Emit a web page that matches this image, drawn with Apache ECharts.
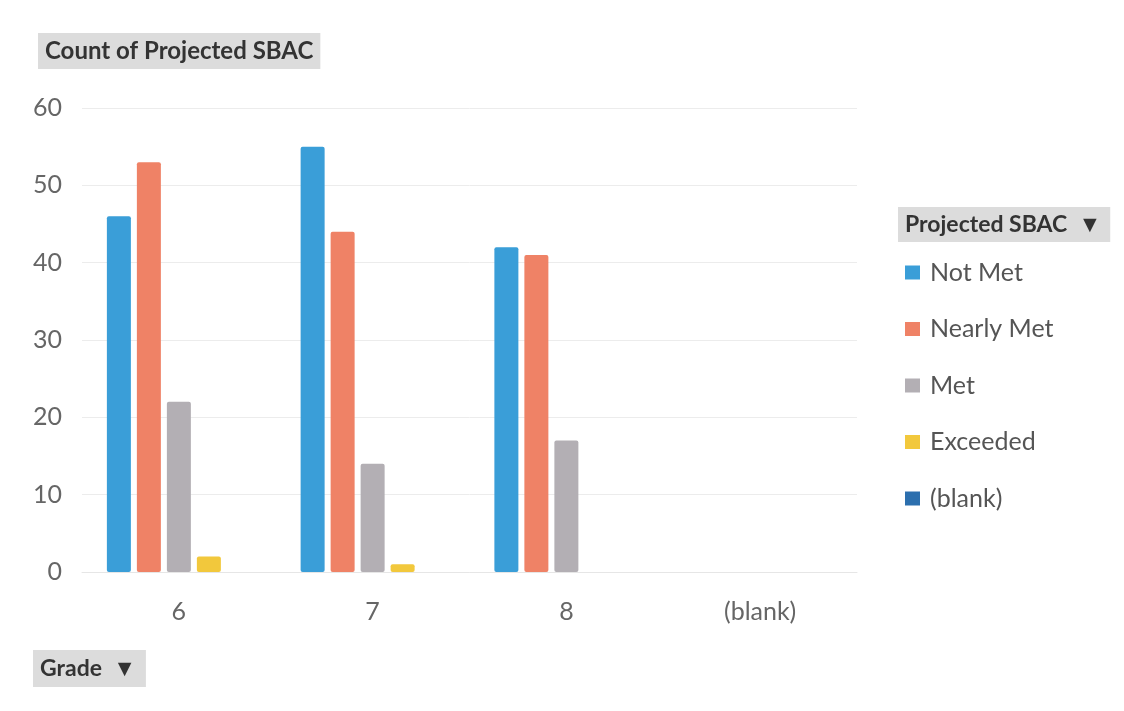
<!DOCTYPE html>
<html>
<head>
<meta charset="utf-8">
<script src="https://cdn.jsdelivr.net/npm/echarts@6/dist/echarts.min.js"></script>
<style>html,body{margin:0;padding:0;background:#fff;}#c{width:1124px;height:711px;}</style>
</head>
<body>
<div id="c"></div>
<script>
const grades = ['6', '7', '8', '(blank)'];
const seriesNames = ['Not Met', 'Nearly Met', 'Met', 'Exceeded', '(blank)'];
const notMet = [46, 55, 42, null];
const nearlyMet = [53, 44, 41, null];
const met = [22, 14, 17, null];
const exceeded = [2, 1, null, null];
const blank = [null, null, null, null];
const yTicks = [0, 10, 20, 30, 40, 50, 60];
const colors = ['#3a9ed8', '#ef8266', '#b3afb4', '#f2c83c', '#2c6fae'];

const values = [notMet, nearlyMet, met, exceeded, blank];
const FONT = 'Lato, "Open Sans", sans-serif';

const chart = echarts.init(document.getElementById('c'));
chart.setOption({
  animation: false,
  backgroundColor: '#ffffff',
  textStyle: { fontFamily: FONT },
  title: {
    text: 'Count of Projected SBAC',
    left: 38, top: 33,
    backgroundColor: '#dcdcdc',
    padding: [6, 7, 6, 7],
    textStyle: { fontFamily: FONT, fontSize: 24, fontWeight: 'bold', color: '#333333' }
  },
  legend: {
    orient: 'vertical',
    left: 905, top: 260,
    padding: 0,
    itemWidth: 15, itemHeight: 14,
    itemGap: 31.5,
    icon: 'rect',
    data: seriesNames,
    textStyle: { fontFamily: FONT, fontSize: 25, lineHeight: 25, color: '#555555', padding: [0, 0, 0, 5] }
  },
  graphic: [
    {
      type: 'text', left: 898, top: 207,
      style: {
        text: 'Projected SBAC  \u25BC',
        font: 'bold 23px ' + FONT,
        fill: '#333333',
        backgroundColor: '#dcdcdc',
        padding: [6, 9, 6, 7]
      }
    },
    {
      type: 'text', left: 33, top: 650,
      style: {
        text: 'Grade  \u25BC',
        font: 'bold 23px ' + FONT,
        fill: '#333333',
        backgroundColor: '#dcdcdc',
        padding: [7, 10, 7, 7]
      }
    }
  ],
  grid: { left: 82, right: 267, top: 108, bottom: 139, containLabel: false },
  xAxis: {
    type: 'category',
    data: grades,
    axisLine: { show: true, lineStyle: { color: '#e6e6e6' } },
    axisTick: { show: false },
    axisLabel: { fontFamily: FONT, fontSize: 25, color: '#666666', margin: 27 }
  },
  yAxis: {
    type: 'value',
    min: yTicks[0], max: yTicks[yTicks.length - 1], interval: 10,
    axisLine: { show: false },
    axisTick: { show: false },
    splitLine: { lineStyle: { color: '#ececec', width: 1 } },
    axisLabel: { fontFamily: FONT, fontSize: 25, color: '#666666', margin: 20 }
  },
  series: seriesNames.map((name, i) => ({
    name: name,
    type: 'bar',
    data: values[i],
    barWidth: 24,
    barGap: '25%',
    itemStyle: { color: colors[i], borderRadius: 2 }
  }))
});
</script>
</body>
</html>
